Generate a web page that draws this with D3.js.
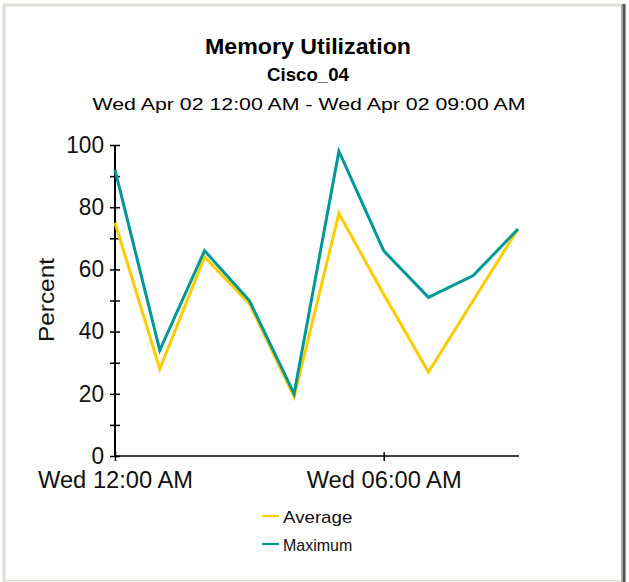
<!DOCTYPE html>
<html>
<head>
<meta charset="utf-8">
<script src="https://cdn.jsdelivr.net/npm/d3@7"></script>
<style>
  body { margin: 0; background: #fff; }
  svg { display: block; }
  text { font-family: 'Liberation Sans', Arial, sans-serif; }
</style>
</head>
<body>
<script>
// hours after Wed Apr 02 12:00 AM
var hours = [0, 1, 2, 3, 4, 5, 6, 7, 8, 9];
var averageValues = [75, 28, 64, 49, 19, 78, 52, 27, 50, 73];
var maximumValues = [92, 34, 66, 50, 20, 98, 66, 51, 58, 73];
var xTickHours = [0, 6];
var xTickLabels = ['Wed 12:00 AM', 'Wed 06:00 AM'];
var yTicks = [0, 20, 40, 60, 80, 100];
var seriesNames = ['Average', 'Maximum'];
var seriesColors = ['#ffcc00', '#009999'];

var svg = d3.select('body').append('svg').attr('width', 629).attr('height', 582);

// frame
svg.append('rect').attr('x', 4).attr('y', 5).attr('width', 620).attr('height', 578)
  .attr('fill', '#fff').attr('stroke', '#e2dfd8').attr('stroke-width', 3);
svg.append('line').attr('x1', 624).attr('x2', 624).attr('y1', 4).attr('y2', 582)
  .attr('stroke', '#555').attr('stroke-width', 3);
svg.append('line').attr('x1', 621.5).attr('x2', 621.5).attr('y1', 5).attr('y2', 582)
  .attr('stroke', '#aaa').attr('stroke-width', 1);
svg.append('line').attr('x1', 4).attr('x2', 622).attr('y1', 580.5).attr('y2', 580.5)
  .attr('stroke', '#e2dfd8').attr('stroke-width', 1);

// titles
svg.append('text').attr('x', 308).attr('y', 54).attr('text-anchor', 'middle')
  .attr('font-size', '22px').attr('font-weight', 'bold')
  .attr('textLength', 206).attr('lengthAdjust', 'spacingAndGlyphs')
  .text('Memory Utilization');
svg.append('text').attr('x', 308).attr('y', 81).attr('text-anchor', 'middle')
  .attr('font-size', '19px').attr('font-weight', 'bold')
  .attr('textLength', 82).attr('lengthAdjust', 'spacingAndGlyphs')
  .text('Cisco_04');
svg.append('text').attr('x', 309).attr('y', 110).attr('text-anchor', 'middle')
  .attr('font-size', '17px').attr('textLength', 433).attr('lengthAdjust', 'spacingAndGlyphs')
  .text('Wed Apr 02 12:00 AM - Wed Apr 02 09:00 AM');

var xScale = d3.scaleLinear().domain([0, 9]).range([115, 518]);
var yScale = d3.scaleLinear().domain([0, 100]).range([456, 145]);

var g = svg.append('g');

// y axis
var yAxis = g.append('g').attr('transform', 'translate(115,0)')
  .call(d3.axisLeft(yScale).tickValues(d3.range(0, 101, 10)).tickSize(5)
    .tickFormat(function (d) { return yTicks.indexOf(d) >= 0 ? d : ''; }));
yAxis.select('.domain').attr('d', 'M0,' + yScale(100) + 'V' + yScale(0)).attr('stroke', '#000').attr('stroke-width', 2);
yAxis.selectAll('.tick line').attr('x1', -5).attr('x2', 5).attr('stroke-width', 1.5);
yAxis.selectAll('.tick text').attr('x', -11).attr('font-size', '23px')
  .attr('font-family', "'Liberation Sans', Arial, sans-serif").attr('fill', '#111')
  .attr('textLength', function (d) { return String(yTicks.indexOf(d) >= 0 ? d : '').length * 12.6; })
  .attr('lengthAdjust', 'spacingAndGlyphs');

// x axis
var xAxis = g.append('g').attr('transform', 'translate(0,456)')
  .call(d3.axisBottom(xScale).tickValues(xTickHours).tickSize(5)
    .tickFormat(function (d, i) { return xTickLabels[i]; }));
xAxis.select('.domain').attr('d', 'M115,0H519').attr('stroke', '#000').attr('stroke-width', 1.5);
xAxis.selectAll('.tick line').attr('y1', -4).attr('y2', 5).attr('stroke-width', 1.5);
xAxis.selectAll('.tick text').attr('y', 16).attr('font-size', '23px')
  .attr('font-family', "'Liberation Sans', Arial, sans-serif").attr('fill', '#111')
  .attr('textLength', 155).attr('lengthAdjust', 'spacingAndGlyphs');

svg.append('text').attr('transform', 'translate(54,300) rotate(-90)')
  .attr('text-anchor', 'middle').attr('font-size', '22px').attr('fill', '#111')
  .attr('textLength', 84).attr('lengthAdjust', 'spacingAndGlyphs')
  .text('Percent');

// lines
var line = d3.line()
  .x(function (d, i) { return xScale(hours[i]); })
  .y(function (d) { return yScale(d); });

[averageValues, maximumValues].forEach(function (vals, k) {
  g.append('path').datum(vals)
    .attr('fill', 'none')
    .attr('stroke', seriesColors[k])
    .attr('stroke-width', 3)
    .attr('stroke-linejoin', 'miter')
    .attr('d', line);
});

// legend
var legend = svg.append('g').attr('transform', 'translate(262,516)');
seriesNames.forEach(function (name, i) {
  var row = legend.append('g').attr('transform', 'translate(0,' + i * 28 + ')');
  row.append('line').attr('x1', 0).attr('x2', 17).attr('y1', 0).attr('y2', 0)
    .attr('stroke', seriesColors[i]).attr('stroke-width', 2);
  row.append('text').attr('x', 21).attr('y', 7).attr('font-size', '17px')
    .attr('textLength', name.length * 9.9).attr('lengthAdjust', 'spacingAndGlyphs')
    .attr('fill', '#111').text(name);
});
</script>
</body>
</html>
